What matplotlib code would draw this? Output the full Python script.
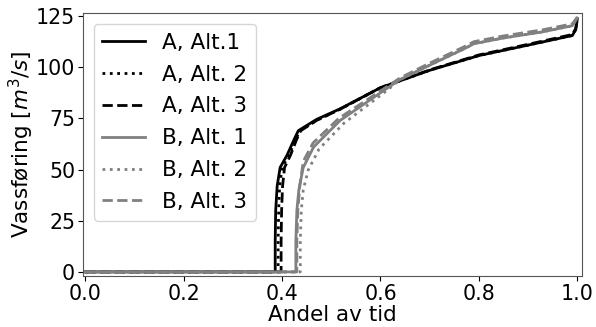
import numpy as np
import matplotlib
matplotlib.use("Agg")
import matplotlib.pyplot as plt

# flow duration curves, breakpoints
a1_x = [0, 0.386, 0.386, 0.387, 0.390, 0.396, 0.410, 0.425, 0.433, 0.47, 0.518, 0.60, 0.70, 0.80, 0.90, 0.99, 0.997, 1.0]
a1_y = [0, 0, 15, 30, 42, 51, 57, 65, 69, 74.5, 79.7, 90, 98.5, 105.7, 110.8, 115.5, 118.5, 123.5]
a2_x = [0, 0.392, 0.392, 0.393, 0.395, 0.400, 0.414, 0.428, 0.436, 0.47, 0.518, 0.60, 0.70, 0.80, 0.90, 0.99, 0.997, 1.0]
a2_y = [0, 0, 15, 30, 42, 51, 57, 65, 69, 74, 79.5, 90, 98.5, 105.7, 110.8, 115.5, 118.5, 123.5]
a3_x = [0, 0.398, 0.398, 0.399, 0.401, 0.405, 0.417, 0.430, 0.438, 0.47, 0.518, 0.60, 0.70, 0.80, 0.90, 0.99, 0.997, 1.0]
a3_y = [0, 0, 15, 30, 42, 51, 57, 65, 69, 74, 79.5, 90, 98.7, 106, 111.2, 116, 119, 124]

b1_x = [0, 0.428, 0.428, 0.430, 0.434, 0.443, 0.464, 0.518, 0.612, 0.64, 0.70, 0.77, 0.79, 0.85, 0.93, 0.99, 1.0]
b1_y = [0, 0, 15, 30, 40, 51, 61, 74, 89.5, 94, 101, 109, 111.5, 114.3, 117.3, 120.3, 124]
b2_x = [0, 0.437, 0.437, 0.439, 0.443, 0.453, 0.475, 0.525, 0.615, 0.64, 0.70, 0.77, 0.79, 0.85, 0.93, 0.99, 1.0]
b2_y = [0, 0, 15, 30, 40, 49.7, 60, 72.5, 89, 94, 101, 109, 111.5, 114.3, 117.3, 120.3, 124]
b3_x = [0, 0.430, 0.430, 0.432, 0.436, 0.443, 0.463, 0.515, 0.610, 0.64, 0.70, 0.77, 0.79, 0.85, 0.93, 0.99, 1.0]
b3_y = [0, 0, 15, 30, 42, 54, 63, 75, 90, 94.8, 102, 110, 112.5, 115.3, 118.3, 121.2, 124.5]

labels = ["A, Alt.1", "A, Alt. 2", "A, Alt. 3", "B, Alt. 1", "B, Alt. 2", "B, Alt. 3"]
series = [(a1_x, a1_y), (a2_x, a2_y), (a3_x, a3_y), (b1_x, b1_y), (b2_x, b2_y), (b3_x, b3_y)]
colors = ["black"] * 3 + ["grey"] * 3
styles = ["-", ":", "--"] * 2

fig = plt.figure(figsize=(5.96, 3.27), dpi=100)
ax = fig.add_axes([0.139, 0.156, 0.837, 0.803])

for (x, y), lab, c, ls in zip(series, labels, colors, styles):
    ax.plot(x, y, color=c, linestyle=ls, linewidth=2, label=lab)

ax.set_xlim(-0.005, 1.009)
ax.set_ylim(-2, 126.3)
ax.set_yticks([0, 25, 50, 75, 100, 125])
ax.set_xticks([0.0, 0.2, 0.4, 0.6, 0.8, 1.0])
ax.tick_params(labelsize=14.8, length=3.5)
ax.tick_params(axis="x", pad=2.5)
ax.tick_params(axis="y", pad=2)
ax.set_xlabel("Andel av tid", fontsize=15.5)
ax.xaxis.set_label_coords(0.5, -0.11)
ax.set_ylabel("Vassføring [$m^3/s$]", fontsize=15.5, labelpad=0)
for s in ax.spines.values():
    s.set_color("#555555")

ax.legend(loc="upper left", fontsize=15.5, handlelength=2, borderpad=0.4,
          labelspacing=0.55, handletextpad=0.8)

fig.savefig("out.png", dpi=100)
